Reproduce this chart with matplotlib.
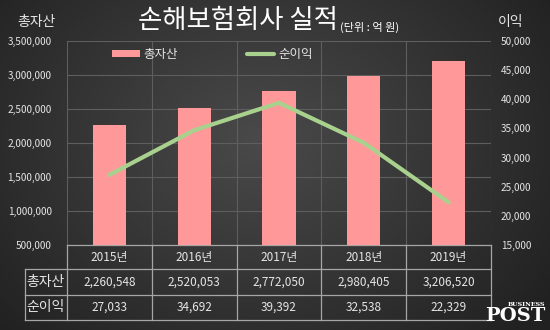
import matplotlib
matplotlib.use("Agg")
import matplotlib.pyplot as plt
import matplotlib.transforms as mtransforms
import numpy as np

plt.rcParams['font.family'] = ['Noto Sans CJK KR', 'DejaVu Sans']

# data
years = ['2015년', '2016년', '2017년', '2018년', '2019년']
total_assets = [2260548, 2520053, 2772050, 2980405, 3206520]
net_income = [27033, 34692, 39392, 32538, 22329]
row_labels = ['총자산', '순이익']

BAR_COLOR = '#FF9999'
LINE_COLOR = '#A9D18E'
TEXT_COLOR = '#e6e6e6'
GRID_COLOR = '#5e5e5e'
TABLE_LINE = '#a6a6a6'

fig = plt.figure(figsize=(5.5, 3.3), dpi=100)

# radial gradient background
bg = fig.add_axes([0, 0, 1, 1], zorder=-10)
yy, xx = np.mgrid[0:330, 0:550]
r = np.sqrt(((xx - 260) / 330.0) ** 2 + ((yy - 140) / 260.0) ** 2)
shade = np.clip(0.29 - 0.15 * r, 0.13, 0.29)
bg.imshow(np.dstack([shade, shade, shade]), aspect='auto', extent=[0, 1, 0, 1])
bg.axis('off')

ax = fig.add_axes([67 / 550, 85 / 330, 424 / 550, 204 / 330])
ax.patch.set_alpha(0)
x = np.arange(len(years))

ax.bar(x, total_assets, width=0.39, color=BAR_COLOR, zorder=3, label='총자산')
ax.set_xlim(-0.5, len(years) - 0.5)
ax.set_ylim(500000, 3500000)
ax.set_yticks(np.arange(500000, 3500001, 500000))
ax.set_yticklabels([f'{v:,}' for v in range(500000, 3500001, 500000)])
ax.set_xticks([])
ax.yaxis.grid(True, color=GRID_COLOR, linewidth=0.8, zorder=0)
for b in np.arange(-0.5, len(years), 1.0):
    ax.axvline(b, color=GRID_COLOR, linewidth=0.8, zorder=0)
for s in ax.spines.values():
    s.set_visible(False)
ax.tick_params(axis='y', length=0, colors=TEXT_COLOR, labelsize=7.2, pad=11)

ax2 = ax.twinx()
ax2.plot(x, net_income, color=LINE_COLOR, linewidth=3, solid_capstyle='round',
         zorder=4, label='순이익')
ax2.set_ylim(15000, 50000)
ax2.set_yticks(np.arange(15000, 50001, 5000))
ax2.set_yticklabels([f'{v:,}' for v in range(15000, 50001, 5000)])
for s in ax2.spines.values():
    s.set_visible(False)
ax2.tick_params(axis='y', length=0, colors=TEXT_COLOR, labelsize=7.2, pad=7)

# legend
h1, l1 = ax.get_legend_handles_labels()
h2, l2 = ax2.get_legend_handles_labels()
leg = ax2.legend(h1 + h2, l1 + l2, loc='upper left', bbox_to_anchor=(0.08, 1.02),
                 ncol=2, frameon=False, fontsize=9, labelcolor=TEXT_COLOR,
                 handlelength=2.2, handleheight=0.5, columnspacing=5.5, handletextpad=0.3)

# data table under the plot
tr = mtransforms.blended_transform_factory(ax.transData, ax.transAxes)
row_edges = [0, -24 / 204, -50 / 204, -75 / 204]
x_left, x_right = -1.0, len(years) - 0.5

ax.plot([-0.5, x_right], [row_edges[0]] * 2, color=TABLE_LINE, lw=0.9, transform=tr, clip_on=False)
for yv in row_edges[1:]:
    ax.plot([x_left, x_right], [yv] * 2, color=TABLE_LINE, lw=0.9, transform=tr, clip_on=False)
for b in np.arange(-0.5, len(years), 1.0):
    ax.plot([b, b], [row_edges[0], row_edges[-1]], color=TABLE_LINE, lw=0.9, transform=tr, clip_on=False)
ax.plot([x_left, x_left], [row_edges[1], row_edges[-1]], color=TABLE_LINE, lw=0.9, transform=tr, clip_on=False)

mid = [(row_edges[i] + row_edges[i + 1]) / 2 for i in range(3)]
for i, yr in enumerate(years):
    ax.text(i, mid[0], yr, transform=tr, ha='center', va='center', color=TEXT_COLOR, fontsize=8.5)
    ax.text(i, mid[1], f'{total_assets[i]:,}', transform=tr, ha='center', va='center',
            color=TEXT_COLOR, fontsize=8.5)
    ax.text(i, mid[2], f'{net_income[i]:,}', transform=tr, ha='center', va='center',
            color=TEXT_COLOR, fontsize=8.5)
for j, lab in enumerate(row_labels):
    ax.text((x_left - 0.5) / 2, mid[j + 1], lab, transform=tr, ha='center', va='center',
            color=TEXT_COLOR, fontsize=10)

# titles and axis names
fig.text(338 / 550, 1 - 21 / 330, '손해보험회사 실적', ha='right', va='center',
         color='white', fontsize=19)
fig.text(340 / 550, 1 - 27 / 330, '(단위 : 억 원)', ha='left', va='center',
         color='white', fontsize=8)
fig.text(36 / 550, 1 - 22 / 330, '총자산', ha='center', va='center', color=TEXT_COLOR, fontsize=10)
fig.text(511 / 550, 1 - 22 / 330, '이익', ha='center', va='center',
         color=TEXT_COLOR, fontsize=10)

# logo
fig.text(545 / 550, 1 - 304 / 330, 'BUSINESS', ha='right', va='center', color='white',
         fontsize=4.5, family='DejaVu Serif', fontweight='bold')
fig.text(546 / 550, 1 - 316 / 330, 'POST', ha='right', va='center', color='white',
         fontsize=14, family='DejaVu Serif', fontweight='bold')

fig.savefig('out.png', dpi=100)
